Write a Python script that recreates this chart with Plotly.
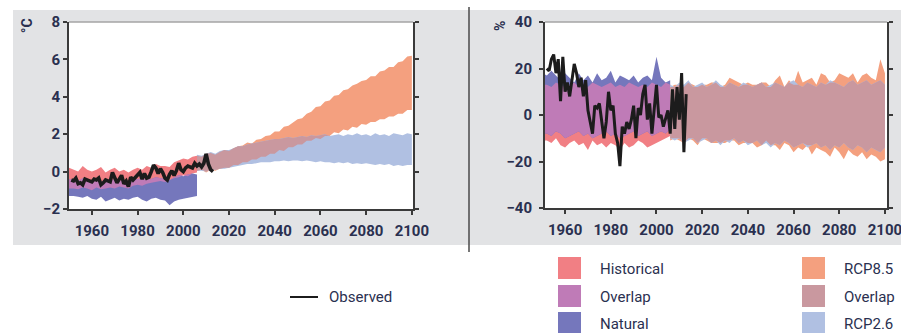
import numpy as np
import plotly.graph_objects as go

# ---------------- data ----------------
years_hist = list(range(1950, 2007, 2))   # 29 points
years_fut = list(range(2006, 2101, 2))    # 48 points
years_obs_t = list(range(1951, 2014))     # 63 points
years_obs_p = list(range(1952, 2014))     # 62 points

# Temperature anomaly (°C)
t_hist_hi = [0.2, 0.1, 0.0, 0.3, 0.1, 0.0, 0.1, 0.25, -0.05, 0.1, 0.2, 0.0, 0.1, -0.05, 0.1,
             0.2, 0.1, 0.3, 0.2, 0.4, 0.3, 0.3, 0.25, 0.5, 0.6, 0.7, 0.65, 0.8, 0.85]
t_hist_lo = [-0.9, -0.9, -0.95, -0.85, -0.9, -1.0, -0.85, -0.95, -0.9, -0.85, -0.9, -0.8, -0.85, -0.9, -0.75,
             -0.7, -0.75, -0.65, -0.6, -0.55, -0.5, -0.55, -0.45, -0.35, -0.3, -0.2, -0.25, -0.1, -0.05]
t_nat_hi = [-0.4, -0.4, -0.5, -0.35, -0.45, -0.5, -0.4, -0.55, -0.45, -0.5, -0.4, -0.5, -0.45, -0.55, -0.45,
            -0.4, -0.35, -0.45, -0.4, -0.3, -0.35, -0.4, -0.45, -0.3, -0.2, -0.25, -0.15, -0.1, -0.15]
t_nat_lo = [-1.3, -1.3, -1.35, -1.4, -1.3, -1.45, -1.5, -1.35, -1.6, -1.5, -1.4, -1.55, -1.45, -1.5, -1.4,
            -1.35, -1.5, -1.6, -1.45, -1.4, -1.5, -1.55, -1.8, -1.6, -1.5, -1.45, -1.4, -1.35, -1.3]
t_rcp85_hi = [0.85, 0.8, 0.95, 1.0, 0.9, 1.05, 1.15, 1.1, 1.25, 1.35, 1.4, 1.55, 1.5, 1.7, 1.75, 1.9,
              1.95, 2.15, 2.15, 2.4, 2.45, 2.65, 2.8, 2.85, 3.1, 3.2, 3.45, 3.5, 3.75, 3.8, 4.05, 4.1,
              4.35, 4.4, 4.6, 4.7, 4.85, 4.9, 5.1, 5.1, 5.35, 5.4, 5.6, 5.6, 5.85, 5.9, 6.15, 6.2]
t_rcp85_lo = [0.05, 0.1, -0.05, 0.1, 0.05, 0.15, 0.2, 0.2, 0.35, 0.35, 0.5, 0.5, 0.65, 0.65, 0.8, 0.8,
              0.95, 0.95, 1.15, 1.1, 1.3, 1.3, 1.45, 1.45, 1.65, 1.65, 1.8, 1.75, 1.9, 1.9, 2.1, 2.05,
              2.25, 2.2, 2.4, 2.35, 2.55, 2.5, 2.65, 2.65, 2.8, 2.8, 2.95, 2.95, 3.1, 3.1, 3.3, 3.3]
t_rcp26_hi = [0.9, 0.85, 0.95, 1.05, 0.95, 1.1, 1.15, 1.15, 1.25, 1.35, 1.35, 1.45, 1.5, 1.55, 1.6, 1.65,
              1.7, 1.75, 1.75, 1.8, 1.85, 1.8, 1.85, 1.9, 1.85, 1.95, 1.9, 1.95, 2.0, 1.9, 1.95, 2.0,
              1.9, 2.0, 1.95, 2.05, 1.95, 2.0, 1.9, 2.05, 1.95, 2.0, 1.9, 2.05, 2.0, 1.95, 2.05, 2.0]
t_rcp26_lo = [0.05, 0.05, 0.0, 0.1, 0.1, 0.15, 0.15, 0.2, 0.25, 0.3, 0.35, 0.4, 0.4, 0.45, 0.5, 0.5,
              0.5, 0.55, 0.55, 0.6, 0.55, 0.6, 0.6, 0.55, 0.6, 0.55, 0.5, 0.55, 0.5, 0.5, 0.45, 0.5,
              0.45, 0.5, 0.4, 0.45, 0.4, 0.45, 0.4, 0.35, 0.4, 0.35, 0.4, 0.3, 0.35, 0.3, 0.35, 0.35]
t_observed = [-0.45, -0.5, -0.35, -0.65, -0.6, -0.7, -0.4, -0.45, -0.5, -0.55,
              -0.4, -0.45, -0.35, -0.7, -0.6, -0.45, -0.5, -0.55, -0.05, -0.35,
              -0.6, -0.4, -0.2, -0.65, -0.5, -0.8, -0.3, -0.45, -0.3, -0.2,
              -0.05, -0.4, -0.1, -0.35, -0.3, 0.0, 0.35, 0.2, -0.1, 0.15,
              -0.05, -0.35, -0.45, -0.15, 0.05, -0.2, 0.05, 0.45, 0.1, 0.0,
              0.2, 0.3, 0.25, 0.2, 0.45, 0.3, 0.4, 0.25, 0.45, 0.95,
              0.4, 0.1, 0.0]

# Precipitation anomaly (%)
p_hist_hi = [13, 13, 12, 14, 13, 12, 13, 14, 12, 13, 12, 14, 13, 12, 13,
             14, 12, 13, 12, 14, 13, 12, 13, 12, 14, 13, 12, 14, 13]
p_hist_lo = [-11, -11, -12, -10, -13, -14, -12, -11, -13, -12, -15, -11, -13, -12, -14,
             -12, -13, -15, -12, -14, -13, -11, -12, -14, -13, -12, -11, -10, -9]
p_nat_hi = [18, 17, 19, 17, 15, 18, 16, 14, 18, 15, 17, 14, 18, 15, 16,
            19, 14, 17, 16, 15, 17, 14, 16, 17, 15, 25, 16, 14, 15]
p_nat_lo = [-8, -8, -9, -7, -8, -10, -9, -8, -7, -9, -8, -10, -9, -8, -7,
            -9, -8, -10, -9, -8, -7, -9, -8, -7, -9, -8, -7, -8, -6]
p_rcp85_hi = [12, 13, 13, 12, 14, 13, 12, 13, 13, 14, 14, 12, 13, 16, 15, 14,
              13, 14, 13, 13, 14, 14, 12, 15, 17, 12, 15, 13, 19, 14, 15, 16,
              13, 18, 17, 14, 15, 18, 17, 16, 18, 14, 17, 18, 16, 15, 24, 18]
p_rcp85_lo = [-11, -10, -11, -12, -10, -11, -13, -10, -11, -12, -12, -12, -12, -11, -11, -13,
              -12, -12, -12, -14, -13, -11, -13, -13, -15, -12, -13, -16, -14, -15, -13, -17,
              -14, -15, -16, -18, -14, -16, -19, -15, -17, -18, -16, -19, -17, -18, -20, -19]
p_rcp26_hi = [13, 12, 14, 13, 15, 12, 13, 14, 12, 13, 15, 13, 12, 14, 13, 12,
              14, 13, 12, 13, 14, 12, 13, 14, 13, 12, 14, 15, 13, 12, 14, 13,
              12, 14, 13, 15, 14, 13, 12, 14, 15, 13, 14, 15, 13, 14, 15, 13]
p_rcp26_lo = [-10, -11, -10, -12, -11, -10, -12, -11, -10, -12, -11, -13, -11, -12, -10, -12,
              -11, -13, -12, -11, -13, -12, -14, -12, -13, -11, -12, -14, -13, -12, -14, -13,
              -12, -14, -13, -15, -13, -14, -12, -14, -15, -13, -14, -16, -14, -15, -16, -14]
p_observed = [20, 19, 24, 26, 18, 24, 6, 25, 10, 14,
              8, 15, 22, 18, 12, 16, 8, 15, 2, -3,
              -8, 4, 3, 5, -4, -10, -3, 10, 2, 4,
              -8, -12, -22, -5, -8, -3, -6, -2, 4, -10,
              3, 0, 9, 13, -2, 5, -8, 3, 13, -1,
              0, -5, -2, 2, -8, 11, -6, 12, -2, 18,
              -16, 9]

x_ticks = [1960, 1980, 2000, 2020, 2040, 2060, 2080, 2100]
t_ticks = [-2, 0, 2, 4, 6, 8]
p_ticks = [-40, -20, 0, 20, 40]

legend_left = ["Historical", "Overlap", "Natural"]
legend_right = ["RCP8.5", "Overlap", "RCP2.6"]

# ---------------- styling ----------------
C_HIST = "#f17f84"
C_OV1 = "#bf7bb7"
C_NAT = "#7577bc"
C_85 = "#f4a07f"
C_OV2 = "#c9989f"
C_26 = "#b0c0e2"
C_OBS = "#1c1c1c"
TXT = "#2a3050"
AX = "#3a3a3a"

W, H = 901, 333
def px(x):
    return x / W
def py(y):
    return 1 - y / H

fig = go.Figure()

def add_band(x, lo, hi, color, xa, ya):
    fig.add_trace(go.Scatter(x=x, y=lo, mode="lines", line=dict(width=0, color=color),
                             hoverinfo="skip", showlegend=False, xaxis=xa, yaxis=ya))
    fig.add_trace(go.Scatter(x=x, y=hi, mode="lines", line=dict(width=0, color=color),
                             fill="tonexty", fillcolor=color,
                             hoverinfo="skip", showlegend=False, xaxis=xa, yaxis=ya))

def add_panel(xa, ya, hlo, hhi, nlo, nhi, a_lo, a_hi, b_lo, b_hi, obs_x, obs_y, obs_w):
    hlo, hhi, nlo, nhi = map(np.array, (hlo, hhi, nlo, nhi))
    add_band(years_hist, hlo, hhi, C_HIST, xa, ya)
    add_band(years_hist, nlo, nhi, C_NAT, xa, ya)
    olo = np.maximum(hlo, nlo)
    ohi = np.maximum(np.minimum(hhi, nhi), olo)
    add_band(years_hist, olo, ohi, C_OV1, xa, ya)
    a_lo, a_hi, b_lo, b_hi = map(np.array, (a_lo, a_hi, b_lo, b_hi))
    add_band(years_fut, a_lo, a_hi, C_85, xa, ya)
    add_band(years_fut, b_lo, b_hi, C_26, xa, ya)
    flo = np.maximum(a_lo, b_lo)
    fhi = np.maximum(np.minimum(a_hi, b_hi), flo)
    add_band(years_fut, flo, fhi, C_OV2, xa, ya)
    fig.add_trace(go.Scatter(x=obs_x, y=obs_y, mode="lines",
                             line=dict(color=C_OBS, width=obs_w),
                             hoverinfo="skip", showlegend=False, xaxis=xa, yaxis=ya))

add_panel("x", "y", t_hist_lo, t_hist_hi, t_nat_lo, t_nat_hi,
          t_rcp85_lo, t_rcp85_hi, t_rcp26_lo, t_rcp26_hi, years_obs_t, t_observed, 3.6)
add_panel("x2", "y2", p_hist_lo, p_hist_hi, p_nat_lo, p_nat_hi,
          p_rcp85_lo, p_rcp85_hi, p_rcp26_lo, p_rcp26_hi, years_obs_p, p_observed, 3.0)

tickfont = dict(family="Roboto, Arial, sans-serif", size=15, color=TXT, weight="bold")
common = dict(showline=True, linecolor=AX, linewidth=2, ticks="outside", ticklen=4,
              tickwidth=1.5, tickcolor=AX, showgrid=False, zeroline=False,
              tickfont=tickfont, fixedrange=True, automargin=False,
              ticklabeloverflow="allow")

L_PLOT = (69, 413, 22, 209)
R_PLOT = (545, 887, 22, 208)

fig.update_layout(
    width=W, height=H, autosize=False,
    margin=dict(l=0, r=0, t=0, b=0, pad=0),
    paper_bgcolor="white", plot_bgcolor="white",
    showlegend=False,
    xaxis=dict(domain=[px(L_PLOT[0]), px(L_PLOT[1])], range=[1950, 2100.5],
               tickvals=x_ticks, anchor="y", ticklabelstandoff=3, **common),
    yaxis=dict(domain=[py(L_PLOT[3]), py(L_PLOT[2])], range=[-2, 8],
               tickvals=t_ticks, anchor="x", mirror="ticks", **common),
    xaxis2=dict(domain=[px(R_PLOT[0]), px(R_PLOT[1])], range=[1951.2, 2100.9],
                tickvals=x_ticks, anchor="y2", ticklabelstandoff=3, **common),
    yaxis2=dict(domain=[py(R_PLOT[3]), py(R_PLOT[2])], range=[-40, 40],
                tickvals=p_ticks, anchor="x2", mirror="ticks", ticklabelstandoff=4, **common),
)

shapes = []
# grey panel background
shapes.append(dict(type="rect", xref="paper", yref="paper", x0=px(13), x1=px(901), y0=py(245), y1=py(10),
                   fillcolor="#e2e3e5", line=dict(width=0), layer="below"))
for (x0, x1, y0, y1) in (L_PLOT, R_PLOT):
    shapes.append(dict(type="rect", xref="paper", yref="paper", x0=px(x0), x1=px(x1), y0=py(y1), y1=py(y0),
                       fillcolor="white", line=dict(width=0), layer="below"))
    shapes.append(dict(type="line", xref="paper", yref="paper", x0=px(x0), x1=px(x1), y0=py(y0), y1=py(y0),
                       line=dict(color="#a4a4a4", width=1.5)))
# separator
shapes.append(dict(type="line", xref="paper", yref="paper", x0=px(469), x1=px(469), y0=py(252), y1=py(7),
                   line=dict(color="#4a4a4a", width=1.5)))
# legend: observed line
shapes.append(dict(type="line", xref="paper", yref="paper", x0=px(290), x1=px(318), y0=py(297), y1=py(297),
                   line=dict(color=C_OBS, width=2)))
annotations = []
annotations.append(dict(text="Observed", x=px(327), y=py(297), xref="paper", yref="paper",
                        xanchor="left", yanchor="middle", showarrow=False,
                        font=dict(family="Roboto, Arial, sans-serif", size=15, color=TXT)))
rows_y = [268, 296, 323]
for col_x, labels, colors in ((558, legend_left, [C_HIST, C_OV1, C_NAT]),
                              (802, legend_right, [C_85, C_OV2, C_26])):
    for ry, lab, colr in zip(rows_y, labels, colors):
        shapes.append(dict(type="rect", xref="paper", yref="paper", x0=px(col_x), x1=px(col_x + 23),
                           y0=py(ry + 11), y1=py(ry - 11), fillcolor=colr, line=dict(width=0)))
        annotations.append(dict(text=lab, x=px(col_x + 40), y=py(ry + 1), xref="paper", yref="paper",
                                xanchor="left", yanchor="middle", showarrow=False,
                                font=dict(family="Roboto, Arial, sans-serif", size=15, color=TXT)))
# axis unit labels
annotations.append(dict(text="°C", x=px(27), y=py(26), xref="paper", yref="paper", textangle=-90,
                        showarrow=False, xanchor="center", yanchor="middle",
                        font=dict(family="Roboto, Arial, sans-serif", size=14, color=TXT, weight="bold")))
annotations.append(dict(text="%", x=px(500), y=py(26), xref="paper", yref="paper", textangle=-90,
                        showarrow=False, xanchor="center", yanchor="middle",
                        font=dict(family="Roboto, Arial, sans-serif", size=14, color=TXT, weight="bold")))

fig.update_layout(shapes=shapes, annotations=annotations)
fig.write_html("out.html", config={"displayModeBar": False},
               post_script="document.body.style.margin='0';")
